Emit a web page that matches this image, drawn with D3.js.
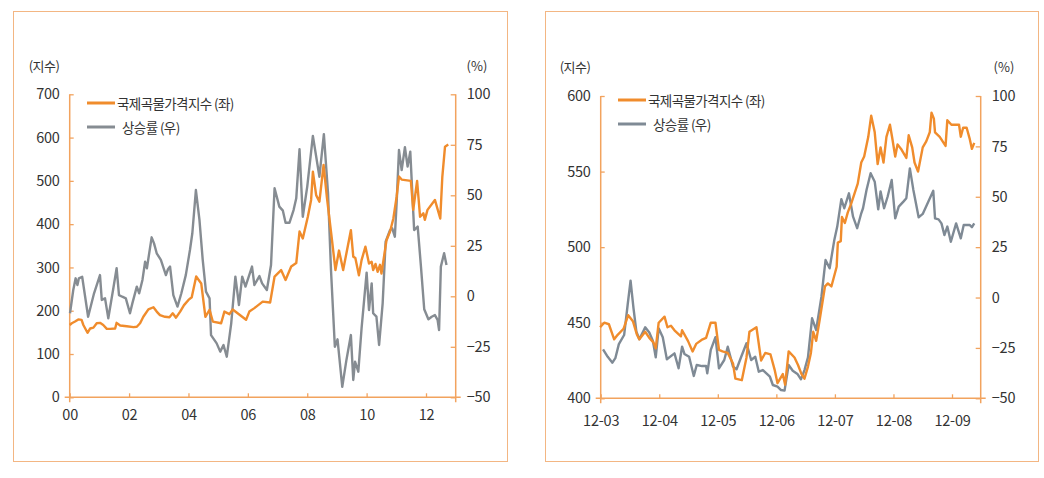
<!DOCTYPE html>
<html><head><meta charset="utf-8">
<script src="https://cdn.jsdelivr.net/npm/d3@7"></script>
<style>
html,body{margin:0;padding:0;background:#fff;}
svg text{font-family:"Noto Sans CJK KR","Noto Sans",sans-serif;fill:#333;}
</style></head>
<body><svg id="c" width="1044" height="478"></svg>
<script>
// ---------- Panel 1 (2000-2012, monthly) ----------
const p1IndexYears = [0.00,0.07,0.18,0.29,0.40,0.46,0.60,0.69,0.80,0.91,1.02,1.13,1.25,1.36,1.53,1.58,1.70,1.92,2.15,2.26,2.37,2.48,2.65,2.82,2.93,3.04,3.21,3.36,3.47,3.58,3.72,3.85,4.00,4.11,4.26,4.43,4.57,4.71,4.82,5.10,5.21,5.38,5.49,5.94,6.05,6.22,6.50,6.75,6.90,7.12,7.27,7.46,7.63,7.74,7.85,8.02,8.13,8.19,8.30,8.41,8.55,8.66,8.82,8.95,9.07,9.21,9.32,9.47,9.55,9.62,9.74,9.83,9.96,10.08,10.17,10.22,10.30,10.37,10.45,10.50,10.67,10.79,10.90,11.01,11.09,11.18,11.49,11.57,11.70,11.80,11.91,11.96,12.05,12.30,12.48,12.55,12.64,12.75];
const p1IndexValues = [167,171,175,180,179,167,149,159,161,171,172,167,158,158,159,172,166,164,162,163,171,186,203,208,198,190,186,185,194,184,198,213,225,231,279,263,186,202,175,171,198,192,203,179,198,206,221,219,279,294,271,302,310,383,367,417,456,521,467,452,537,463,371,294,339,294,333,386,325,322,282,317,348,309,313,294,308,290,306,286,363,383,413,463,510,503,500,433,500,417,425,410,433,456,413,510,579,584];
const p1RateYears = [0.01,0.12,0.20,0.26,0.31,0.42,0.62,0.82,1.02,1.08,1.19,1.30,1.46,1.58,1.66,1.77,1.89,2.03,2.11,2.26,2.34,2.45,2.54,2.60,2.76,2.84,2.93,3.07,3.24,3.31,3.38,3.49,3.63,3.76,3.91,4.05,4.13,4.25,4.37,4.48,4.59,4.71,4.76,4.87,4.95,5.07,5.18,5.29,5.44,5.58,5.70,5.81,5.92,6.14,6.22,6.39,6.48,6.64,6.78,6.90,7.06,7.18,7.27,7.40,7.54,7.63,7.74,7.85,8.00,8.19,8.41,8.56,8.70,8.80,8.93,9.02,9.18,9.32,9.47,9.55,9.61,9.72,9.83,10.00,10.08,10.17,10.22,10.33,10.42,10.54,10.64,10.79,10.86,10.95,11.01,11.09,11.18,11.29,11.38,11.47,11.60,11.72,11.83,11.94,12.08,12.19,12.30,12.39,12.44,12.50,12.61,12.69];
const p1RateValues = [-8.4,3.1,8.9,5.6,8.9,9.7,-10.1,1.5,10.5,-1.8,-1.0,-10.9,3.1,13.9,0.6,-0.2,-1.0,-8.4,-3.5,4.8,1.5,8.1,17.1,13.9,29.2,26.2,21.3,18.0,10.5,13.4,14.7,0.6,-5.1,1.5,10.5,22.9,31.2,52.6,37.8,18.0,2.3,-1.0,-19.2,-21.6,-23.3,-27.4,-24.1,-29.9,-13.4,9.7,-4.3,9.7,4.8,14.7,5.6,10.0,6.4,3.1,15.5,53.5,44.4,42.4,36.4,36.4,42.7,48.5,72.8,39.4,54.3,79.4,59.2,80.3,51.0,13.0,-25.0,-21.3,-44.8,-31.5,-19.2,-41.4,-32.4,-37.3,-15.8,11.7,-6.8,6.4,-8.4,-10.1,-24.1,-3.5,27.0,32.8,33.7,29.5,46.0,72.4,62.5,73.8,64.2,71.6,32.8,34.5,14.7,-6.4,-11.4,-10.1,-9.3,-11.7,-16.7,14.7,21.3,15.5];
const p1XTickValues = [0,2,4,6,8,10,12];
const p1XTickLabels = ["00","02","04","06","08","10","12"];
const p1LeftTicks = [0,100,200,300,400,500,600,700];

// ---------- Panel 2 (2012-03 .. 2012-09, daily) ----------
const p2IndexMonths = [2.99,3.06,3.14,3.23,3.29,3.39,3.47,3.55,3.62,3.66,3.72,3.76,3.83,3.90,3.94,3.99,4.09,4.14,4.20,4.26,4.37,4.39,4.49,4.57,4.63,4.74,4.80,4.88,4.96,5.02,5.08,5.17,5.26,5.30,5.41,5.49,5.54,5.66,5.74,5.81,5.90,5.97,6.02,6.11,6.15,6.21,6.31,6.37,6.43,6.48,6.54,6.59,6.63,6.68,6.74,6.83,6.88,6.94,7.03,7.05,7.10,7.12,7.17,7.22,7.28,7.39,7.45,7.50,7.57,7.62,7.68,7.73,7.78,7.83,7.88,7.94,7.98,8.03,8.07,8.13,8.22,8.26,8.32,8.36,8.42,8.50,8.56,8.62,8.65,8.69,8.71,8.79,8.89,8.92,8.99,9.12,9.15,9.19,9.25,9.30,9.34,9.38];
const p2IndexValues = [447,450,449,439,442,446,455,451,442,439,442,444,440,437,433,450,454,447,448,445,441,445,438,431,436,439,440,450,450,432,431,430,423,413,412,427,444,447,425,430,429,419,410,416,409,431,427,422,416,413,421,430,444,438,452,474,476,474,487,503,504,520,516,523,529,542,556,560,573,587,576,555,566,556,573,581,572,560,568,565,559,574,566,556,550,566,570,576,589,585,576,573,567,584,581,581,573,579,579,572,565,569];
const p2RateMonths = [3.04,3.12,3.20,3.25,3.31,3.40,3.46,3.51,3.56,3.61,3.66,3.76,3.83,3.89,3.94,3.99,4.06,4.13,4.26,4.33,4.39,4.43,4.51,4.59,4.64,4.73,4.80,4.82,4.88,4.96,5.02,5.11,5.17,5.26,5.32,5.40,5.49,5.57,5.64,5.70,5.77,5.89,5.94,6.02,6.08,6.14,6.21,6.28,6.36,6.42,6.48,6.54,6.61,6.68,6.77,6.84,6.91,6.99,7.04,7.11,7.16,7.24,7.31,7.38,7.45,7.48,7.54,7.61,7.68,7.74,7.78,7.84,7.90,7.97,8.03,8.09,8.17,8.22,8.28,8.34,8.43,8.50,8.68,8.71,8.77,8.82,8.87,8.92,8.98,9.07,9.15,9.20,9.30,9.34,9.38];
const p2RateValues = [-25.7,-29.4,-32.3,-30.1,-23.1,-18.6,-3.7,8.4,-5.3,-17.0,-20.7,-14.8,-17.4,-21.4,-29.7,-15.3,-19.7,-30.6,-27.7,-35.1,-24.4,-28.0,-29.4,-38.9,-33.5,-34.0,-34.0,-37.6,-26.0,-19.7,-35.1,-31.0,-24.4,-34.3,-35.6,-29.4,-22.7,-31.0,-29.4,-36.8,-36.0,-39.3,-43.4,-44.2,-45.9,-46.2,-33.5,-36.3,-37.9,-40.6,-36.0,-29.7,-10.3,-16.1,0.4,18.6,14.5,28.6,35.2,48.8,44.3,51.7,40.1,34.4,41.8,44.3,53.4,61.7,57.5,43.8,52.6,44.3,50.0,58.3,39.3,45.1,47.6,49.3,64.1,53.4,39.8,41.5,53.0,39.3,38.8,36.8,31.0,35.2,27.7,36.8,29.4,36.0,36.0,34.9,36.8];
const p2XTickValues = [3,4,5,6,7,8,9];
const p2XTickLabels = ["12-03","12-04","12-05","12-06","12-07","12-08","12-09"];
const p2LeftTicks = [400,450,500,550,600];

const rightTicks = [-50,-25,0,25,50,75,100];
const legendLabels = ["국제곡물가격지수 (좌)", "상승률 (우)"];
const leftUnit = "(지수)", rightUnit = "(%)";

const ORANGE = "#f08c2c", GRAY = "#868c92", AXIS = "#f2a35e", BORDER = "#f3b683";
const fmtR = d => d < 0 ? "\u2212" + Math.abs(d) : String(d);

const svg = d3.select("#c");

function panel(cfg) {
  const g = svg.append("g");
  g.append("rect").attr("x", cfg.box[0]).attr("y", cfg.box[1])
    .attr("width", cfg.box[2]).attr("height", cfg.box[3])
    .attr("fill", "none").attr("stroke", BORDER).attr("stroke-width", 1);

  const x = d3.scaleLinear().domain(cfg.xDomain).range([cfg.left, cfg.right]);
  const yL = d3.scaleLinear().domain(cfg.yLDomain).range([cfg.bottom, cfg.top]);
  const yR = d3.scaleLinear().domain([-50, 100]).range([cfg.bottom, cfg.top]);

  const axL = d3.axisLeft(yL).tickValues(cfg.leftTicks).tickSizeInner(-4).tickSizeOuter(0).tickPadding(cfg.padL);
  const axR = d3.axisRight(yR).tickValues(rightTicks).tickFormat(fmtR).tickSizeInner(-5).tickSizeOuter(0).tickPadding(cfg.padR);
  const axB = d3.axisBottom(x).tickValues(cfg.xTicks).tickFormat((d, i) => cfg.xLabels[i]).tickSizeInner(-4).tickSizeOuter(0).tickPadding(cfg.padB);

  const styleAxis = sel => {
    sel.select(".domain").remove();
    sel.selectAll(".tick line").attr("stroke", AXIS).attr("stroke-width", 1.3);
    sel.selectAll(".tick text").attr("font-size", 14.5).attr("fill", "#333")
      .style("letter-spacing", "-0.2px").attr("font-family", "'Noto Sans CJK KR', sans-serif");
  };
  g.append("g").attr("transform", `translate(${cfg.left},0)`).call(axL).call(styleAxis);
  g.append("g").attr("transform", `translate(${cfg.right},0)`).call(axR).call(styleAxis);
  g.append("g").attr("transform", `translate(0,${cfg.bottom})`).call(axB).call(styleAxis);

  const line = (x1, y1, x2, y2) => g.append("line").attr("x1", x1).attr("y1", y1).attr("x2", x2).attr("y2", y2)
      .attr("stroke", AXIS).attr("stroke-width", 1.5);
  line(cfg.left, cfg.top, cfg.left, cfg.bottom + 5);
  line(cfg.right, cfg.top, cfg.right, cfg.bottom + 5);
  line(cfg.left - 5, cfg.bottom, cfg.right + 5, cfg.bottom);

  const gen = (ys) => d3.line().x(d => x(d[0])).y(d => ys(d[1]));
  const rate = cfg.rateX.map((v, i) => [v, cfg.rateV[i]]);
  const idx = cfg.indexX.map((v, i) => [v, cfg.indexV[i]]);
  g.append("path").datum(rate).attr("d", gen(yR)).attr("fill", "none")
    .attr("stroke", cfg.grayColor).attr("stroke-width", 2.4).attr("stroke-linejoin", "round");
  g.append("path").datum(idx).attr("d", gen(yL)).attr("fill", "none")
    .attr("stroke", ORANGE).attr("stroke-width", 2.4).attr("stroke-linejoin", "round");

  g.append("text").attr("x", cfg.unitL[0]).attr("y", cfg.unitL[1]).attr("text-anchor", "middle")
    .attr("dominant-baseline", "central").attr("font-size", 13).style("letter-spacing", "-0.5px").text(leftUnit);
  g.append("text").attr("x", cfg.unitR[0]).attr("y", cfg.unitR[1]).attr("text-anchor", "middle")
    .attr("dominant-baseline", "central").attr("font-size", 13).text(rightUnit);

  const lg = g.append("g");
  lg.append("line").attr("x1", cfg.leg[0]).attr("x2", cfg.leg[0] + 28).attr("y1", cfg.leg[1]).attr("y2", cfg.leg[1])
    .attr("stroke", ORANGE).attr("stroke-width", 3);
  lg.append("text").attr("x", cfg.leg[0] + 30).attr("y", cfg.leg[1]).attr("dominant-baseline", "central")
    .attr("font-size", 13.5).style("letter-spacing", "-0.6px").text(legendLabels[0]);
  lg.append("line").attr("x1", cfg.leg[0]).attr("x2", cfg.leg[0] + 28).attr("y1", cfg.leg[1] + 24).attr("y2", cfg.leg[1] + 24)
    .attr("stroke", cfg.grayColor).attr("stroke-width", 3);
  lg.append("text").attr("x", cfg.leg[0] + 35).attr("y", cfg.leg[1] + 24).attr("dominant-baseline", "central")
    .attr("font-size", 13.5).style("letter-spacing", "-0.6px").text(legendLabels[1]);
}

panel({
  box: [13.5, 11.5, 494, 450],
  left: 69.7, right: 455.7, top: 94.3, bottom: 397.3,
  xDomain: [0, 13], yLDomain: [0, 700],
  leftTicks: p1LeftTicks, xTicks: p1XTickValues, xLabels: p1XTickLabels,
  padL: 10, padR: 11, padB: 12,
  indexX: p1IndexYears, indexV: p1IndexValues, rateX: p1RateYears, rateV: p1RateValues,
  grayColor: GRAY,
  unitL: [44, 65], unitR: [477, 65], leg: [87, 103]
});

panel({
  box: [545.5, 11.5, 493, 450],
  left: 600.7, right: 980.7, top: 96, bottom: 398.3,
  xDomain: [3, 9.49], yLDomain: [400, 600],
  leftTicks: p2LeftTicks, xTicks: p2XTickValues, xLabels: p2XTickLabels,
  padL: 10, padR: 11, padB: 17,
  indexX: p2IndexMonths, indexV: p2IndexValues, rateX: p2RateMonths, rateV: p2RateValues,
  grayColor: "#7f8a95",
  unitL: [575, 66], unitR: [1004, 66], leg: [618, 100]
});
</script></body></html>
